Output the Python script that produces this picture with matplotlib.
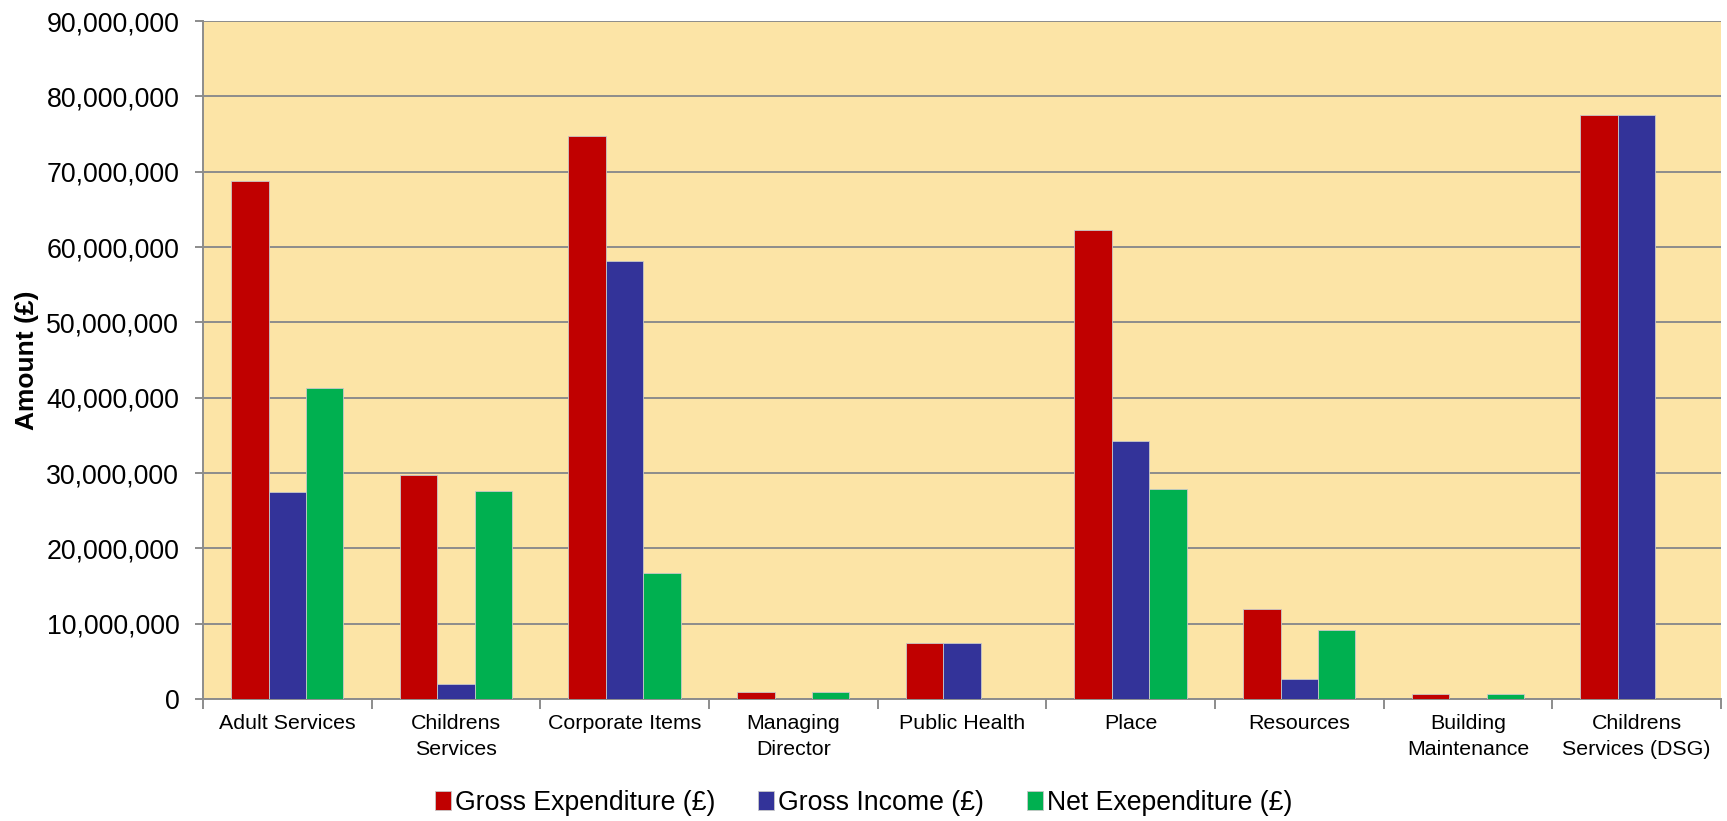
import matplotlib
matplotlib.use("Agg")
import matplotlib.pyplot as plt
import numpy as np
from matplotlib.ticker import FuncFormatter, FixedLocator

categories = ["Adult Services", "Childrens\nServices", "Corporate Items", "Managing\nDirector",
              "Public Health", "Place", "Resources", "Building\nMaintenance", "Childrens\nServices (DSG)"]
gross_expenditure = [68.8e6, 29.7e6, 74.8e6, 0.9e6, 7.45e6, 62.2e6, 12.0e6, 0.6e6, 77.5e6]
gross_income = [27.5e6, 2.05e6, 58.2e6, 0.0, 7.45e6, 34.3e6, 2.6e6, 0.0, 77.5e6]
net_expenditure = [41.3e6, 27.6e6, 16.7e6, 0.9e6, 0.0, 27.9e6, 9.2e6, 0.6e6, 0.0]
series_names = ["Gross Expenditure (£)", "Gross Income (£)", "Net Exependiture (£)"]
colors = ["#C00000", "#333399", "#00B050"]

plt.rcParams["font.family"] = ["Liberation Sans", "DejaVu Sans"]

fig = plt.figure(figsize=(17.27, 8.21), dpi=100)
ax = fig.add_axes([0.1175, 0.1486, 0.879, 0.8258])
ax.set_facecolor("#FCE4A6")

x = np.arange(len(categories))
w = 0.222
for i, (vals, c, n) in enumerate(zip([gross_expenditure, gross_income, net_expenditure], colors, series_names)):
    ax.bar(x + (i - 1) * w, vals, width=w, color=c, edgecolor="#c8c8c8", linewidth=0.6, label=n, zorder=3)

ax.set_xlim(-0.5, len(categories) - 0.5)
ax.set_ylim(0, 90e6)
ax.set_yticks(np.arange(0, 90e6 + 1, 10e6))
ax.yaxis.set_major_formatter(FuncFormatter(lambda v, p: f"{int(v):,}"))
ax.grid(axis="y", color="#8C8C8C", linewidth=1.4, zorder=1)
ax.set_axisbelow(True)

ax.set_xticks(x)
ax.set_xticklabels(categories, fontsize=15.4, linespacing=1.42)
ax.xaxis.set_minor_locator(FixedLocator(np.arange(-0.5, len(categories), 1.0)))
ax.tick_params(axis="x", which="major", length=0, pad=11)
ax.tick_params(axis="x", which="minor", length=7, width=1.4, color="#8C8C8C")
ax.tick_params(axis="y", length=6, width=1.4, color="#8C8C8C", pad=11, labelsize=19.3)

for s in ["top", "right"]:
    ax.spines[s].set_visible(False)
for s in ["left", "bottom"]:
    ax.spines[s].set_color("#8C8C8C")
    ax.spines[s].set_linewidth(1.4)

ax.set_ylabel("Amount (£)", fontsize=19, fontweight="bold")
ax.yaxis.set_label_coords(-0.108, 0.5)

leg = fig.legend(loc="center", bbox_to_anchor=(0.5, 0.022), ncol=3, frameon=False,
                 prop={"size": 19.2},
                 handlelength=0.6, handleheight=0.75, handletextpad=0.15, columnspacing=1.6)

fig.savefig("out.png", dpi=100)
